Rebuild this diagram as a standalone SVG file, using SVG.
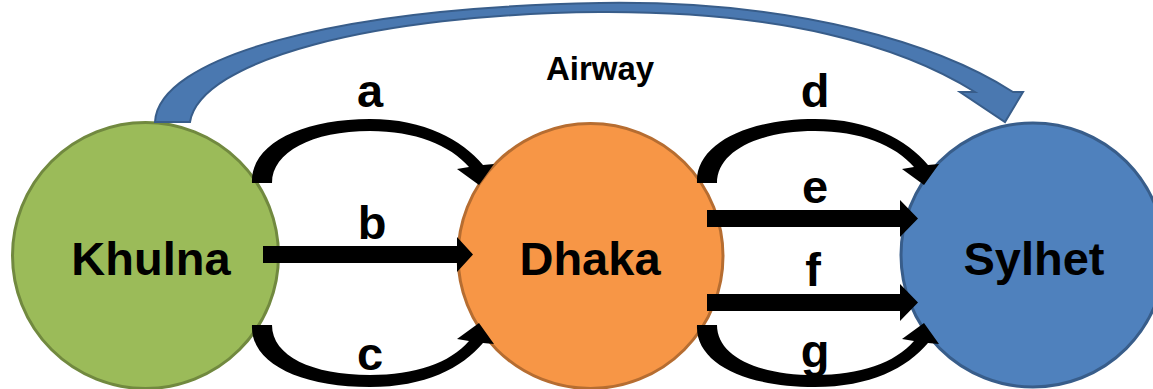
<svg xmlns="http://www.w3.org/2000/svg" width="1153" height="389" viewBox="0 0 1153 389">
  <style>
    .city { stroke-width: 3; }
    .name { font-family: "Liberation Sans", Arial, sans-serif; font-weight: bold; font-size: 47px; fill: #000; text-anchor: middle; }
    .lbl { font-family: "Liberation Sans", Arial, sans-serif; font-weight: bold; font-size: 47px; fill: #000; text-anchor: middle; }
    .route { fill: #000; }
  </style>
  <rect width="1153" height="389" fill="#fff"/>

  <!-- City nodes -->
  <g id="khulna">
    <circle class="city" cx="145.5" cy="255.5" r="133" fill="#9BBB59" stroke="#71893F"/>
    <text class="name" x="151" y="275">Khulna</text>
  </g>
  <g id="dhaka">
    <circle class="city" cx="590.5" cy="256" r="132.5" fill="#F79646" stroke="#B66D31"/>
    <text class="name" x="590" y="275">Dhaka</text>
  </g>
  <g id="sylhet">
    <circle class="city" cx="1033" cy="255" r="132" fill="#4F81BD" stroke="#385D8A"/>
    <text class="name" x="1034" y="275">Sylhet</text>
  </g>

  <!-- Connectors -->
  <g id="connectors">
    <!-- Airway: wide curved arrow Khulna -> Sylhet -->
    <path d="M155,122 C158,58 330,8 600,3 C800,0 940,45 1013,92 L1023,92 L1005,122 L960,92 L975,92 C900,45 780,11 600,12 C375,14 200,60 190,122 Z"
          fill="#4A78B0" stroke="#385D8A" stroke-width="2" stroke-linejoin="miter"/>

    <!-- a: Khulna -> Dhaka (upper arc) -->
    <path class="route" d="M252,183 C250,145 300,119 370,119 C425,119 462,140 483,165 L494,164 L479,185 L457,169 L469,167 C450,145 415,131 370,131 C312,131 272,152 272,183 Z"/>
    <!-- b: Khulna -> Dhaka (straight) -->
    <path class="route" d="M263,246 L457,246 L457,237 L473,254.5 L457,272 L457,263 L263,263 Z"/>
    <!-- c: Khulna -> Dhaka (lower arc) -->
    <path class="route" d="M252,325 C250,363 300,387 370,387 C425,387 462,368 483,343 L494,344 L479,323 L457,339 L469,341 C450,363 415,375 370,375 C312,375 272,356 272,325 Z"/>

    <!-- d: Dhaka -> Sylhet (upper arc) -->
    <path class="route" d="M697,183 C695,145 745,119 815,119 C870,119 907,140 928,165 L939,164 L924,185 L902,169 L914,167 C895,145 860,131 815,131 C757,131 717,152 717,183 Z"/>
    <!-- e: Dhaka -> Sylhet (straight) -->
    <path class="route" d="M707,210 L900,210 L900,200 L918,218.5 L900,237 L900,227 L707,227 Z"/>
    <!-- f: Dhaka -> Sylhet (straight) -->
    <path class="route" d="M707,294 L900,294 L900,284 L918,302.5 L900,321 L900,311 L707,311 Z"/>
    <!-- g: Dhaka -> Sylhet (lower arc) -->
    <path class="route" d="M697,325 C695,363 745,387 815,387 C870,387 907,368 928,343 L939,344 L924,323 L902,339 L914,341 C895,363 860,375 815,375 C757,375 717,356 717,325 Z"/>
  </g>

  <!-- Route labels -->
  <g id="labels">
    <text x="600" y="80" font-family="'Liberation Sans', Arial, sans-serif" font-weight="bold" font-size="33" text-anchor="middle">Airway</text>
    <text class="lbl" x="370" y="107">a</text>
    <text class="lbl" x="372" y="239">b</text>
    <text class="lbl" x="370" y="370">c</text>
    <text class="lbl" x="815" y="107">d</text>
    <text class="lbl" x="815" y="203">e</text>
    <text class="lbl" x="813" y="286">f</text>
    <text class="lbl" x="815" y="367">g</text>
  </g>
</svg>
